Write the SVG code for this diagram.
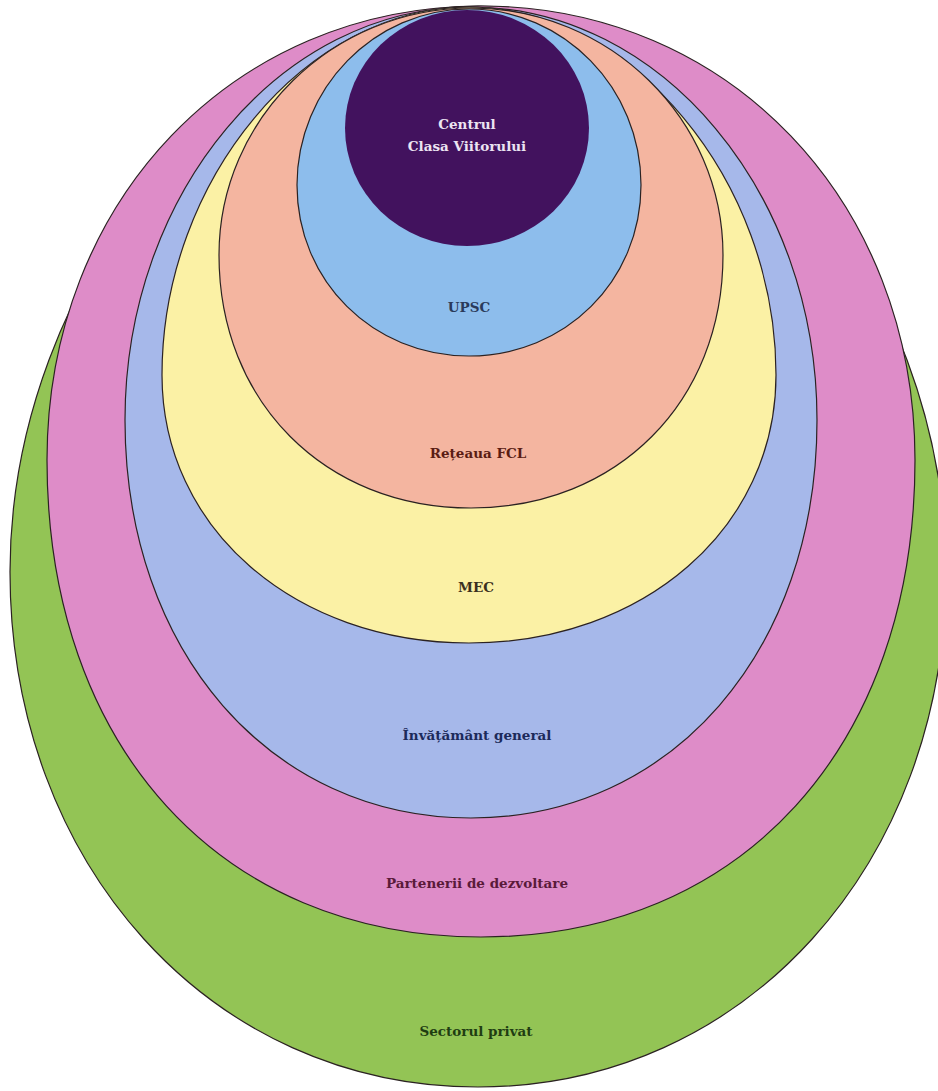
<svg xmlns="http://www.w3.org/2000/svg" width="938" height="1091" viewBox="0 0 938 1091">
<style>
.ring{stroke:#2b2222;stroke-width:1.2}
.lbl{font-family:"DejaVu Serif","Liberation Serif",serif;font-weight:bold;font-size:13.5px;text-anchor:middle}
</style>
<rect width="938" height="1091" fill="#ffffff"/>
<g id="sectorul-privat">
<path class="ring" fill="#93c455" d="M478,6 C235,6 10,279 10,572 C10,864 211,1087 478,1087 C745,1087 946,864 946,572 C946,279 721,6 478,6 Z"/>
<text class="lbl" x="476" y="1036" fill="#1f3d12">Sectorul privat</text>
</g>
<g id="partenerii">
<path class="ring" fill="#de8cc8" d="M481,6 C233.6,6 47,201.2 47,460 C47,746.2 220.6,937 481,937 C741.4,937 915,746.2 915,460 C915,201.2 728.4,6 481,6 Z"/>
<text class="lbl" x="477" y="888" fill="#5a1a3a">Partenerii de dezvoltare</text>
</g>
<g id="invatamant-general">
<path class="ring" fill="#a6b8ea" d="M471,7 C280.7,7 125,192.8 125,420 C125,650.8 270.3,818 471,818 C671.7,818 817,650.8 817,420 C817,192.8 661.3,7 471,7 Z"/>
<text class="lbl" x="477" y="740" fill="#1c2a5a">Învățământ general</text>
</g>
<g id="mec">
<path class="ring" fill="#fbf1a5" d="M469,7 C306.3,7 162,180 162,375 C162,527.8 294,643 469,643 C644,643 776,527.8 776,375 C776,180 631.7,7 469,7 Z"/>
<text class="lbl" x="476" y="592" fill="#3a3020">MEC</text>
</g>
<g id="reteaua-fcl">
<path class="ring" fill="#f4b5a0" d="M471,8 C332.4,8 219,119.1 219,255 C219,401.7 324.8,508 471,508 C617.2,508 723,401.7 723,255 C723,119.1 609.6,8 471,8 Z"/>
<text class="lbl" x="478" y="458" fill="#5a1c14">Rețeaua FCL</text>
</g>
<g id="upsc">
<path class="ring" fill="#8dbdec" d="M469,9 C374.4,9 297,88.2 297,185 C297,280.8 372.7,356 469,356 C565.3,356 641,280.8 641,185 C641,88.2 563.6,9 469,9 Z"/>
<text class="lbl" x="469" y="312" fill="#2a3a5a">UPSC</text>
</g>
<g id="centrul-clasa-viitorului">
<ellipse cx="467" cy="128" rx="122" ry="118" fill="#42125e"/>
<text class="lbl" x="467" y="129" fill="#ece4f2" font-size="12">Centrul</text>
<text class="lbl" x="467" y="151" fill="#ece4f2" font-size="12">Clasa Viitorului</text>
</g>
<g id="connectors"/>
</svg>
